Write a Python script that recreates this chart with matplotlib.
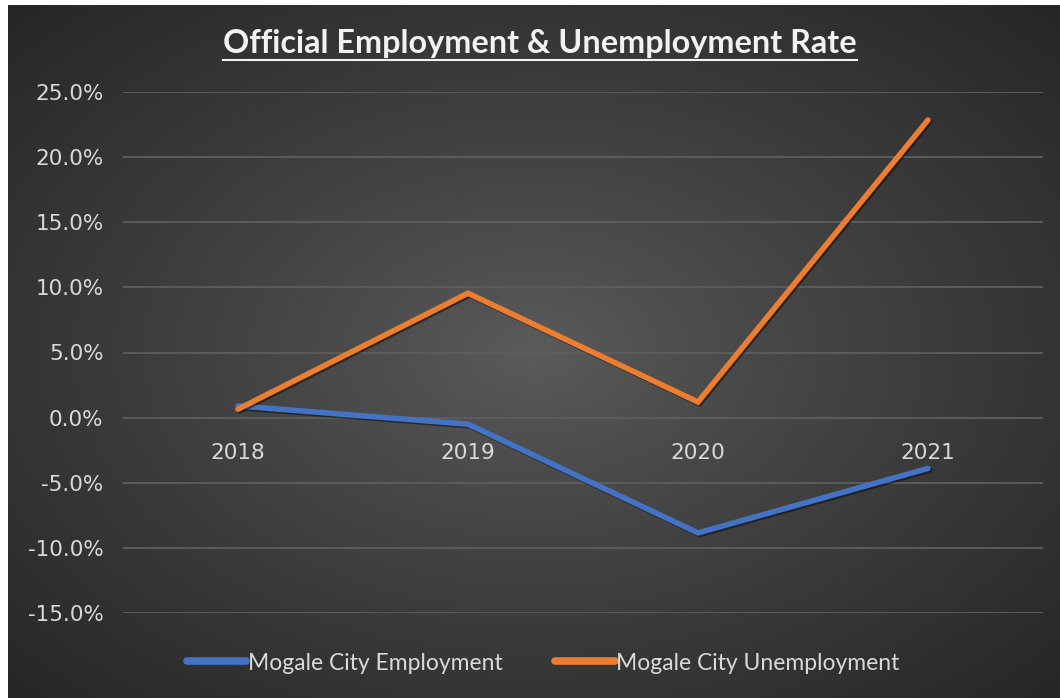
import numpy as np
import matplotlib
matplotlib.use("Agg")
import matplotlib.pyplot as plt
from matplotlib.lines import Line2D
import matplotlib.patheffects as pe
from matplotlib.ticker import FuncFormatter, MultipleLocator

# Data
years = ["2018", "2019", "2020", "2021"]
employment = [0.9, -0.5, -8.85, -3.9]
unemployment = [0.65, 9.55, 1.2, 22.85]
series_names = ["Mogale City Employment", "Mogale City Unemployment"]
series_colors = ["#4472C4", "#ED7D31"]
title_text = "Official Employment & Unemployment Rate"

W, H = 1060, 698
fig = plt.figure(figsize=(W / 100, H / 100), dpi=100, facecolor="white")

# Radial gradient background panel
bg = fig.add_axes([8 / W, 0, 1 - 8 / W, 1 - 5 / H])
bg.set_axis_off()
gx = np.linspace(-1, 1, 600)
gy = np.linspace(-1, 1, 400)
X, Y = np.meshgrid(gx, gy)
R = np.clip(np.sqrt(X ** 2 + Y ** 2) / np.sqrt(2), 0, 1)
center_c, edge_c = 0.36, 0.15
G = center_c + (edge_c - center_c) * R ** 0.85
bg.imshow(np.dstack([G, G, G]), extent=[0, 1, 0, 1], aspect="auto", origin="lower")
bg.set_xlim(0, 1)
bg.set_ylim(0, 1)

ax = fig.add_axes([123 / W, (H - 613) / H, 920 / W, (613 - 92) / H])
ax.patch.set_alpha(0)
x = np.arange(len(years))
shadow = [pe.SimpleLineShadow(offset=(1.2, -1.2), shadow_color="black", alpha=0.45), pe.Normal()]
for vals, col, name in zip([employment, unemployment], series_colors, series_names):
    ax.plot(x, vals, color=col, lw=4.0, solid_capstyle="round", solid_joinstyle="miter",
            path_effects=shadow, label=name, zorder=3)

ax.set_xlim(-0.5, 3.5)
ax.set_ylim(-15, 25)
ax.yaxis.set_major_locator(MultipleLocator(5))
ax.yaxis.set_major_formatter(FuncFormatter(lambda v, p: f"{v:.1f}%"))
ax.grid(axis="y", color="#5e5e5e", lw=1.3)
ax.set_axisbelow(True)
for s in ["top", "right", "left"]:
    ax.spines[s].set_visible(False)
ax.spines["bottom"].set_position(("data", 0))
ax.spines["bottom"].set_visible(False)
ax.set_xticks(x)
ax.set_xticklabels(years)
ax.tick_params(axis="both", length=0, colors="#d9d9d9", labelsize=15.5)
ax.tick_params(axis="y", pad=14)
ax.tick_params(axis="x", pad=18)

# Title with underline
t = fig.text(540 / W, 1 - 44 / H, title_text, ha="center", va="center",
             fontsize=23.3, fontweight="bold", color="#f2f2f2",
             family=["Lato", "DejaVu Sans"])
fig.canvas.draw()
bb = t.get_window_extent()
uy = bb.y0 - 1
fig.add_artist(Line2D([bb.x0 / W, bb.x1 / W], [uy / H, uy / H], color="#f2f2f2", lw=1.5))

handles = [Line2D([], [], color=c, lw=5.5, solid_capstyle="round") for c in series_colors]
leg = fig.legend(handles, series_names, loc="center", bbox_to_anchor=(543 / W, 1 - 663 / H),
                 ncol=2, frameon=False, handlelength=2.6, handletextpad=0.05, columnspacing=2.3,
                 prop={"family": ["Lato", "DejaVu Sans"], "size": 16.5})
for txt in leg.get_texts():
    txt.set_color("#d9d9d9")

fig.savefig("out.png", dpi=100, facecolor=fig.get_facecolor())
